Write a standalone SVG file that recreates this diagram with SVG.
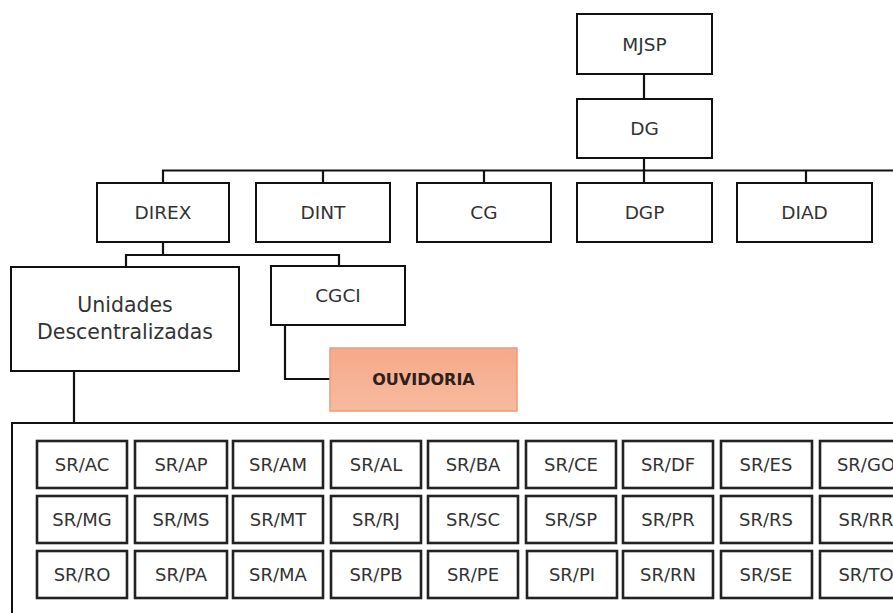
<svg xmlns="http://www.w3.org/2000/svg" width="893" height="613" viewBox="0 0 893 613">
<style>
.box{fill:#fff;stroke:#111;stroke-width:2}
.cell{fill:#fff;stroke:#222;stroke-width:2.6}
.t{font-family:"DejaVu Sans",sans-serif;font-size:18.5px;fill:#333;text-anchor:middle}
.tu{font-family:"DejaVu Sans",sans-serif;font-size:20.5px;fill:#333;text-anchor:middle}
.ts{font-family:"DejaVu Sans",sans-serif;font-size:18px;fill:#333;text-anchor:middle}
.ln{fill:none;stroke:#111;stroke-width:2.2}
</style>
<defs>
<linearGradient id="og" x1="0" y1="0" x2="0" y2="1">
<stop offset="0" stop-color="#f5a98a"/>
<stop offset="1" stop-color="#f7bb9e"/>
</linearGradient>
</defs>
<g id="connectors">
<line class="ln" x1="644" y1="74" x2="644" y2="99"/>
<line class="ln" x1="644" y1="158" x2="644" y2="183" stroke-width="3"/>
<line class="ln" x1="162" y1="170.5" x2="893" y2="170.5" stroke-width="2.6"/>
<line class="ln" x1="163" y1="170" x2="163" y2="183"/>
<line class="ln" x1="323" y1="170" x2="323" y2="183"/>
<line class="ln" x1="484" y1="170" x2="484" y2="183"/>
<line class="ln" x1="806" y1="170" x2="806" y2="183"/>
<line class="ln" x1="163" y1="242" x2="163" y2="255"/>
<polyline class="ln" points="126,267 126,255 339,255 339,266"/>
<polyline class="ln" points="285,325 285,379 330,379"/>
<line class="ln" x1="74" y1="371" x2="74" y2="423"/>
</g>
<g id="n-mjsp"><rect class="box" x="577" y="14" width="135" height="60"/><text class="t" x="644.5" y="51">MJSP</text></g>
<g id="n-dg"><rect class="box" x="577" y="99" width="135" height="59"/><text class="t" x="644.5" y="135">DG</text></g>
<g id="n-direx"><rect class="box" x="97" y="183" width="132" height="59"/><text class="t" x="163" y="219">DIREX</text></g>
<g id="n-dint"><rect class="box" x="256" y="183" width="134" height="59"/><text class="t" x="323" y="219">DINT</text></g>
<g id="n-cg"><rect class="box" x="417" y="183" width="134" height="59"/><text class="t" x="484" y="219">CG</text></g>
<g id="n-dgp"><rect class="box" x="577" y="183" width="135" height="59"/><text class="t" x="644.5" y="219">DGP</text></g>
<g id="n-diad"><rect class="box" x="737" y="183" width="135" height="59"/><text class="t" x="804.5" y="219">DIAD</text></g>
<g id="n-unidades"><rect class="box" x="11" y="267" width="228" height="104"/><text class="tu" x="125" y="312">Unidades</text><text class="tu" x="125" y="339">Descentralizadas</text></g>
<g id="n-cgci"><rect class="box" x="271" y="266" width="134" height="59"/><text class="t" x="338" y="302">CGCI</text></g>
<g id="n-ouvidoria"><rect x="330" y="348" width="187" height="63" fill="url(#og)" stroke="#ee9a78" stroke-width="1.5"/><text x="423.5" y="385" font-family="DejaVu Sans, sans-serif" font-size="16px" font-weight="bold" fill="#2e201a" text-anchor="middle">OUVIDORIA</text></g>
<g id="n-container"><rect class="box" x="12" y="423" width="900" height="210"/></g>
<g id="grid">
<g id="r1">
<rect class="cell" x="37" y="441" width="90" height="47"/><text class="ts" x="82" y="471">SR/AC</text>
<rect class="cell" x="135" y="441" width="92" height="47"/><text class="ts" x="181" y="471">SR/AP</text>
<rect class="cell" x="233" y="441" width="90" height="47"/><text class="ts" x="278" y="471">SR/AM</text>
<rect class="cell" x="331" y="441" width="90" height="47"/><text class="ts" x="376" y="471">SR/AL</text>
<rect class="cell" x="428" y="441" width="90" height="47"/><text class="ts" x="473" y="471">SR/BA</text>
<rect class="cell" x="526" y="441" width="90" height="47"/><text class="ts" x="571" y="471">SR/CE</text>
<rect class="cell" x="623" y="441" width="90" height="47"/><text class="ts" x="668" y="471">SR/DF</text>
<rect class="cell" x="721" y="441" width="91" height="47"/><text class="ts" x="766" y="471">SR/ES</text>
<rect class="cell" x="820" y="441" width="90" height="47"/><text class="ts" x="866" y="471">SR/GO</text>
</g>
<g id="r2">
<rect class="cell" x="37" y="496" width="90" height="47"/><text class="ts" x="82" y="526">SR/MG</text>
<rect class="cell" x="135" y="496" width="92" height="47"/><text class="ts" x="181" y="526">SR/MS</text>
<rect class="cell" x="233" y="496" width="90" height="47"/><text class="ts" x="278" y="526">SR/MT</text>
<rect class="cell" x="331" y="496" width="90" height="47"/><text class="ts" x="376" y="526">SR/RJ</text>
<rect class="cell" x="428" y="496" width="90" height="47"/><text class="ts" x="473" y="526">SR/SC</text>
<rect class="cell" x="526" y="496" width="90" height="47"/><text class="ts" x="571" y="526">SR/SP</text>
<rect class="cell" x="623" y="496" width="90" height="47"/><text class="ts" x="668" y="526">SR/PR</text>
<rect class="cell" x="721" y="496" width="91" height="47"/><text class="ts" x="766" y="526">SR/RS</text>
<rect class="cell" x="820" y="496" width="90" height="47"/><text class="ts" x="866" y="526">SR/RR</text>
</g>
<g id="r3">
<rect class="cell" x="37" y="551" width="90" height="47"/><text class="ts" x="82" y="581">SR/RO</text>
<rect class="cell" x="135" y="551" width="92" height="47"/><text class="ts" x="181" y="581">SR/PA</text>
<rect class="cell" x="233" y="551" width="90" height="47"/><text class="ts" x="278" y="581">SR/MA</text>
<rect class="cell" x="331" y="551" width="90" height="47"/><text class="ts" x="376" y="581">SR/PB</text>
<rect class="cell" x="428" y="551" width="90" height="47"/><text class="ts" x="473" y="581">SR/PE</text>
<rect class="cell" x="527" y="551" width="90" height="47"/><text class="ts" x="572" y="581">SR/PI</text>
<rect class="cell" x="623" y="551" width="90" height="47"/><text class="ts" x="668" y="581">SR/RN</text>
<rect class="cell" x="721" y="551" width="91" height="47"/><text class="ts" x="766" y="581">SR/SE</text>
<rect class="cell" x="820" y="551" width="90" height="47"/><text class="ts" x="866" y="581">SR/TO</text>
</g>
</g>
</svg>
